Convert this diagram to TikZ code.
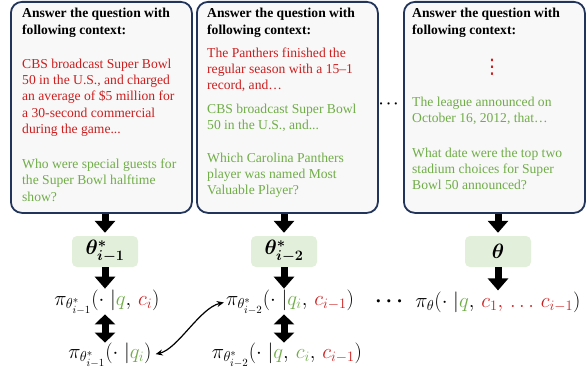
\documentclass[tikz,border=0pt]{standalone}
\usepackage{amsmath}
\usepackage{amssymb}
\usepackage{bm}
\usepackage{fontspec}
\setmainfont{Liberation Serif}
\newfontfamily\dvfont{DejaVu Sans}
\usetikzlibrary{arrows.meta,positioning,calc}

\definecolor{ctxred}{RGB}{204,30,30}
\definecolor{ctxgreen}{RGB}{112,173,71}
\definecolor{boxline}{RGB}{34,52,90}
\definecolor{boxfill}{RGB}{248,248,248}
\definecolor{thetafill}{RGB}{226,239,218}

\newcommand{\ctxr}[1]{\textcolor{ctxred}{#1}}
\newcommand{\ctxg}[1]{\textcolor{ctxgreen}{#1}}

\begin{document}
\begin{tikzpicture}[x=1pt,y=-1pt,
    ctxbox/.style={draw=boxline,line width=1.8pt,fill=boxfill,rounded corners=11pt,
        minimum width=181pt,minimum height=211pt,anchor=north west,inner sep=0pt},
    ctxtext/.style={anchor=base west,inner sep=0pt,font=\fontsize{13.6}{16.3}\selectfont},
    thetabox/.style={fill=thetafill,rounded corners=5pt,minimum width=66pt,
        minimum height=31pt,inner sep=0pt,font=\fontsize{20}{22}\selectfont},
    policy/.style={inner sep=0pt,font=\fontsize{22}{24}\selectfont},
    blockarrow/.style={line width=7pt,-{Triangle[width=20pt,length=12pt]}},
    dblarrow/.style={line width=7pt,{Triangle[width=20pt,length=10pt]}-{Triangle[width=20pt,length=10pt]}},
    swaparrow/.style={line width=1.2pt,{Stealth[length=7pt,width=6pt]}-{Stealth[length=7pt,width=6pt]}}
    ]
            \useasboundingbox (0,0) rectangle (588,374);

            \node[ctxbox] (box1) at (10,1) {};
            \node[ctxbox] (box2) at (196,1) {};
            \node[ctxbox] (box3) at (403,1) {};

            \node[ctxtext] (txt1) at (22,18) {\parbox[t]{175pt}{\raggedright
                \textbf{Answer the question with}\\
                \textbf{following context:}\\[17.7pt]
                {\color{ctxred}CBS broadcast Super Bowl\\
                50 in the U.S., and charged\\
                an average of \$5 million for\\
                a 30-second commercial\\
                during the game...}\\[18.7pt]
                {\color{ctxgreen}Who were special guests for\\
                the Super Bowl halftime\\
                show?}}};
            \node[ctxtext] (txt2) at (207,18) {\parbox[t]{175pt}{\raggedright
                \textbf{Answer the question with}\\
                \textbf{following context:}\\[6.7pt]
                {\color{ctxred}The Panthers finished the\\
                regular season with a 15--1\\
                record, and…}\\[7pt]
                {\color{ctxgreen}CBS broadcast Super Bowl\\
                50 in the U.S., and...}\\[16.4pt]
                {\color{ctxgreen}Which Carolina Panthers\\
                player was named Most\\
                Valuable Player?}}};
            \node[ctxtext] (txt3) at (412,18) {\parbox[t]{175pt}{\raggedright
                \textbf{Answer the question with}\\
                \textbf{following context:}\\[55.7pt]
                {\color{ctxgreen}The league announced on\\
                October 16, 2012, that…}\\[18.4pt]
                {\color{ctxgreen}What date were the top two\\
                stadium choices for Super\\
                Bowl 50 announced?}}};
            \node[ctxred,font=\dvfont\fontsize{20}{20}\selectfont,inner sep=0pt] (vdots3) at (492,67) {⋮};
            \node[font=\fontsize{15}{15}\selectfont] (hdots1) at (390,104) {$\bm{\cdots}$};

            \node[thetabox] (th1) at (105,251.5) {$\bm{\theta^*_{i-1}}$};
            \node[thetabox] (th2) at (284,251.5) {$\bm{\theta^*_{i-2}}$};
            \node[thetabox] (th3) at (498,251.5) {$\bm{\theta}$};

            \node[policy] (p11) at (107,302) {$\pi_{\theta^*_{i-1}}(\cdot\;|\ctxg{q},\,\ctxr{c_i})$};
            \node[policy] (p12) at (110,355) {$\pi_{\theta^*_{i-1}}(\cdot\;|\ctxg{q_i})$};
            \node[policy] (p21) at (290,302) {$\pi_{\theta^*_{i-2}}(\cdot\;|\ctxg{q_i},\,\ctxr{c_{i-1}})$};
            \node[policy] (p22) at (287,355) {$\pi_{\theta^*_{i-2}}(\cdot\;|\ctxg{q},\,\ctxg{c_i},\,\ctxr{c_{i-1}})$};
            \node[policy] (p3) at (498,302) {$\pi_{\theta}(\cdot\;|\ctxg{q},\,\ctxr{c_1,\,\ldots\, c_{i-1}})$};
            \node[policy] (hdots2) at (391,302) {$\bm{\cdots}$};

            \draw[blockarrow,shorten >=3pt] (box1.south -| th1) -- (th1.north);
            \draw[blockarrow,shorten >=3pt] (box2.south -| th2) -- (th2.north);
            \draw[blockarrow,shorten >=3pt] (box3.south -| th3) -- (th3.north);

            \draw[blockarrow,shorten >=1pt] (th1.south) -- (th1.south |- p11.north);
            \draw[blockarrow,shorten >=1pt] (th2.south) -- (th2.south |- p21.north);
            \draw[blockarrow,shorten >=1pt] (th3.south) -- (th3.south |- p3.north);

            \draw[dblarrow] (p11.south -| th1) -- (p12.north -| th1);
            \draw[dblarrow] (p21.south -| th2) -- (p22.north -| th2);

            \draw[swaparrow,shorten <=4pt,shorten >=2pt] (p12.east) .. controls +(26,-6) and +(-26,6) .. (p21.west);
        \end{tikzpicture}
\end{document}
